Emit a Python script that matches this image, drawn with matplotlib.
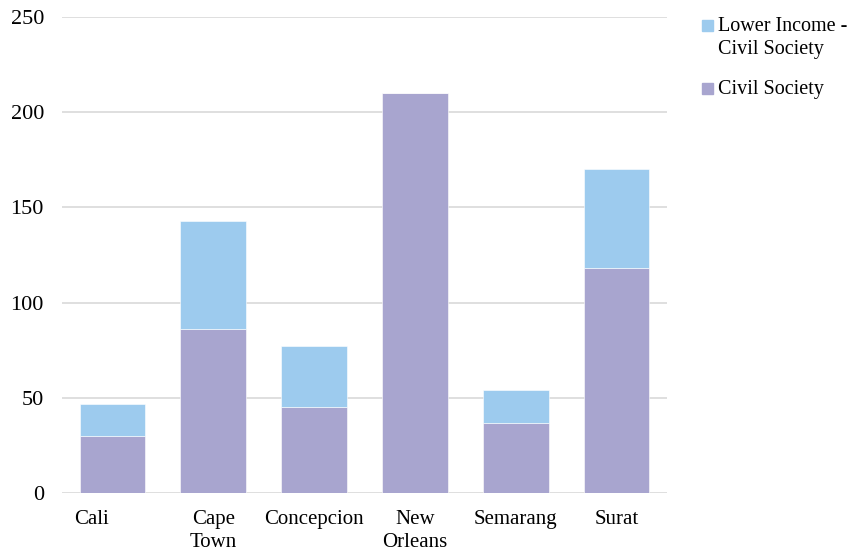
import numpy as np
import matplotlib.pyplot as plt
import matplotlib.patches as mpatches
from matplotlib.transforms import offset_copy

plt.rcParams['font.family'] = ['Liberation Serif', 'DejaVu Serif']

cities = ['Cali', 'Cape\nTown', 'Concepcion', 'New\nOrleans', 'Semarang', 'Surat']
civil_society = [30, 86, 45, 210, 37, 118]
lower_income_cs = [17, 57, 32, 0, 17, 52]

c_civil = '#a8a5cf'
c_lower = '#9dcbee'

fig = plt.figure(figsize=(8.51, 5.54), dpi=100)
ax = fig.add_axes([62 / 851, 1 - 493 / 554, 605 / 851, 476 / 554])

x = np.arange(len(cities))
ax.bar(x, civil_society, width=0.65, color=c_civil, edgecolor='white', linewidth=0.4, zorder=3)
ax.bar(x, lower_income_cs, width=0.65, bottom=civil_society, color=c_lower,
       edgecolor='white', linewidth=0.4, zorder=3)

ax.set_xlim(-0.5, len(cities) - 0.5)
ax.set_ylim(0, 250)
ax.set_yticks(np.arange(0, 251, 50))
ax.grid(axis='y', color='#d9d9d9', linewidth=1.2, zorder=0)
for s in ax.spines.values():
    s.set_visible(False)
ax.tick_params(axis='y', length=0, pad=13, labelsize=16)
ax.tick_params(axis='x', length=0, pad=12, labelsize=15)
ax.set_xticks(x)
ax.set_xticklabels(cities, linespacing=1.3)
# first label sits a bit left in the original
lab0 = ax.get_xticklabels()[0]
lab0.set_transform(offset_copy(lab0.get_transform(), fig=fig, x=-21, y=0, units='dots'))

# legend drawn by hand so the swatch lines up with the first text line
fig.patches.append(mpatches.Rectangle((702 / 851, 1 - 31 / 554), 11 / 851, 11 / 554,
                                      transform=fig.transFigure, color=c_lower))
fig.patches.append(mpatches.Rectangle((702 / 851, 1 - 94 / 554), 11 / 851, 11 / 554,
                                      transform=fig.transFigure, color=c_civil))
fig.text(718 / 851, 1 - 17 / 554, 'Lower Income -\nCivil Society', fontsize=14.5,
         va='top', ha='left', linespacing=1.3)
fig.text(718 / 851, 1 - 80 / 554, 'Civil Society', fontsize=14.5, va='top', ha='left')

fig.savefig('out.png', dpi=100)
